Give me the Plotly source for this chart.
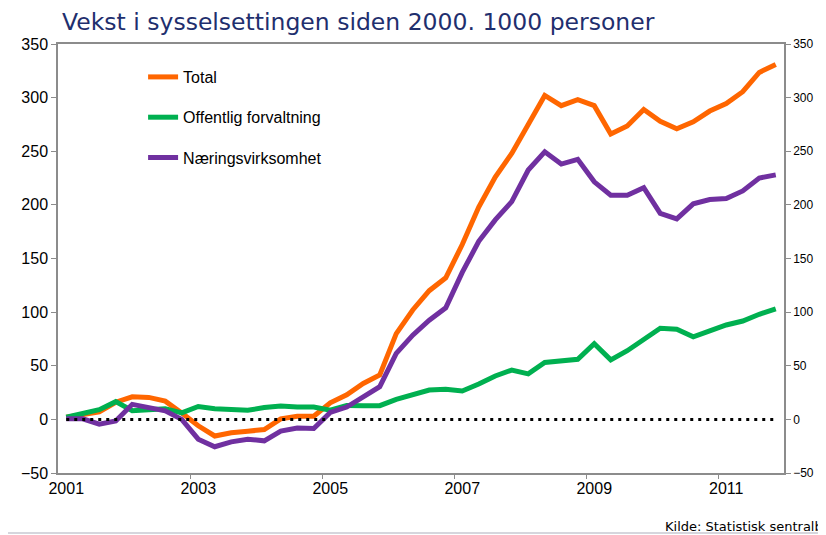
import plotly.graph_objects as go

quarters = list(range(44))
year_ticks = [0, 8, 16, 24, 32, 40]
year_labels = ["2001", "2003", "2005", "2007", "2009", "2011"]

total = [2, 5, 7, 16, 21, 20.5, 17, 6, -6, -15.5, -12.5, -11, -9.5, 0.5, 3, 3,
         15.5, 23, 33.5, 41.5, 80, 102, 120, 132, 163, 198, 226, 248, 274.5, 302,
         292.5, 298, 292.5, 266, 273.5, 289, 278, 271, 277.5, 287.5, 294.5, 305.5,
         323.5, 331]
offentlig = [2, 6, 9, 16.5, 8, 9, 10, 6, 12, 10, 9, 8.5, 11, 12.5, 11.5, 11.5,
             8.5, 13, 12.8, 12.8, 18.7, 22.7, 27.4, 28, 26.5, 33, 40.5, 46, 42.4, 53,
             54, 56, 70.5, 55.5, 64, 74, 85, 84, 77, 82.5, 88, 91.7, 98, 103]
naering = [0.5, 0.5, -4.5, -1.5, 14, 11, 8, 0, -18.5, -25.5, -21, -18.5, -20, -11,
           -8, -8.5, 6.5, 11.5, 21, 30.5, 61.5, 78.5, 92.5, 104, 137, 166, 186, 203,
           232.5, 249.5, 238, 242.5, 221.5, 209, 209, 216, 192, 187, 201, 205, 206,
           213, 225, 228]
zero = [0] * 44

series = [("Total", total, "#FF6600"),
          ("Offentlig forvaltning", offentlig, "#00B050"),
          ("Næringsvirksomhet", naering, "#7030A0")]

fig = go.Figure()
fig.add_trace(go.Scatter(x=quarters, y=zero, mode="lines", xaxis="x2", yaxis="y2",
                         line=dict(color="black", width=3, dash="3px,5px"),
                         showlegend=False, hoverinfo="skip"))
for name, vals, col in series:
    fig.add_trace(go.Scatter(x=quarters, y=vals, mode="lines", name=name,
                             legendgroup=name,
                             line=dict(color=col, width=5)))

axis_col = "#8C8C8C"
xr = [-0.5, 43.5]
yr = [-50, 350]
# page is offset by the 8px body margin: figure is 818x527
W, H = 818, 527
fig.update_layout(
    width=W, height=H,
    margin=dict(l=50, r=42, t=36, b=62),
    paper_bgcolor="white", plot_bgcolor="white",
    font=dict(family="Liberation Sans, Arial", size=16, color="black"),
    title=dict(text="Vekst i sysselsettingen siden 2000. 1000 personer",
               font=dict(family="DejaVu Sans", size=23.5, color="#1F2F6E"),
               xref="container", yref="container", x=(62 - 8) / W, xanchor="left",
               y=1 - (22 - 8) / H, yanchor="middle"),
    xaxis=dict(range=xr, tickvals=year_ticks, ticktext=year_labels, ticks="",
               showgrid=False, zeroline=False, showline=True, linecolor=axis_col,
               linewidth=1.5, mirror=True, tickfont=dict(size=16)),
    xaxis2=dict(range=xr, overlaying="x", side="bottom", tickvals=[7.5, 15.5, 23.5, 31.5, 39.5],
                ticks="outside", ticklen=5, tickcolor=axis_col, showticklabels=False,
                showgrid=False, zeroline=False, showline=False),
    yaxis=dict(range=yr, dtick=50, ticks="outside", ticklen=5, tickcolor=axis_col,
               showgrid=False, zeroline=False, showline=True, linecolor=axis_col,
               linewidth=1.5, tickfont=dict(size=16)),
    yaxis2=dict(range=yr, dtick=50, overlaying="y", side="right", ticks="outside",
                ticklen=5, tickcolor=axis_col, showgrid=False, zeroline=False,
                showline=True, linecolor=axis_col, linewidth=1.5,
                tickfont=dict(size=12)),
    legend=dict(x=0.1172, y=(473 - 60) / 429, xanchor="left", yanchor="top",
                bgcolor="rgba(0,0,0,0)", traceorder="grouped", tracegroupgap=16.5,
                font=dict(size=16)),
    annotations=[dict(text="Kilde: Statistisk sentralbyrå", xref="paper", yref="paper",
                      x=(663 - 58) / 726, y=(473 - 526) / 429, xanchor="left",
                      yanchor="middle", showarrow=False,
                      font=dict(family="DejaVu Sans", size=13, color="black"))],
    shapes=[dict(type="line", xref="paper", yref="paper", x0=-0.1, x1=1.1,
                 y0=(473 - 533) / 429, y1=(473 - 533) / 429,
                 line=dict(color="#C8C8D2", width=1.5))],
)
fig.write_html("out.html")
